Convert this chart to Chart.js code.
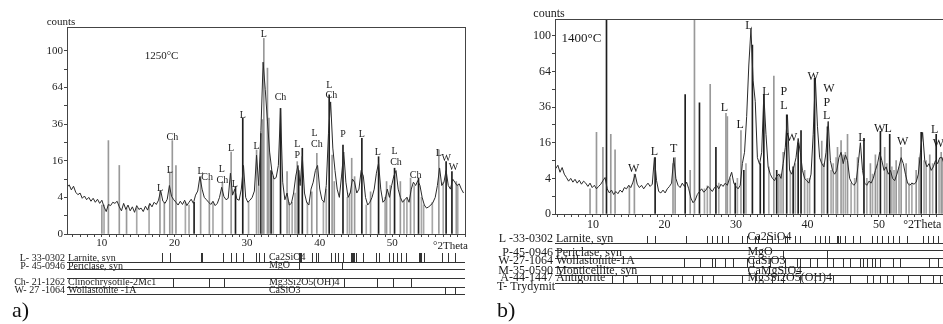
<!DOCTYPE html>
<html>
<head>
<meta charset="utf-8">
<script src="https://cdn.jsdelivr.net/npm/chart.js@4"></script>
<style>
  html, body { margin: 0; padding: 0; background: #fff; overflow: hidden; width: 943px; height: 324px; }
  .panel { position: absolute; top: 0; width: 480px; height: 324px; }
  #panelA { left: 0; }
  #panelB { left: 480px; }
  .tag { position: absolute; top: 297px; font: 22px "Liberation Serif", "Times New Roman", serif; color: #111; }
</style>
</head>
<body>
<div class="panel" id="panelA"><canvas id="chartA"></canvas></div>
<div class="panel" id="panelB"><canvas id="chartB"></canvas></div>
<div class="tag" style="left:12px">a)</div>
<div class="tag" style="left:497px">b)</div>
<script>
// axis labels
const xTickLabels = [10, 20, 30, 40, 50];
const yTickLabels = [0, 4, 16, 36, 64, 100];

// ---- panel a) 1250°C ----
const startA = 5.2, stepA = 0.3;
const profileA = [
  6.5, 7.2, 5.8, 6.8, 5.2, 4.6, 5.0, 3.8, 4.3, 3.5,
  4.0, 3.2, 3.8, 3.0, 3.6, 2.8, 3.4, 2.2, 1.5, 2.6,
  2.4, 3.0, 2.8, 3.2, 2.2, 1.6, 2.8, 1.8, 2.5, 1.6,
  2.2, 1.4, 2.4, 1.8, 2.0, 1.5, 2.3, 1.7, 2.8, 2.2,
  3.0, 2.6, 3.4, 5.6, 3.2, 2.8, 3.6, 7.0, 4.2, 3.5,
  3.0, 2.5, 3.2, 2.6, 3.4, 2.4, 3.0, 3.6, 2.8, 4.5,
  5.5, 9.8, 6.0, 4.0, 3.5, 3.0, 2.6, 3.2, 2.4, 2.8,
  4.0, 6.5, 4.2, 3.5, 3.8, 11.0, 4.5, 6.0, 3.6, 3.4,
  6.0, 14.0, 4.0, 3.0, 3.4, 4.0, 5.5, 18.5, 7.0, 32.0,
  88, 62, 38, 20, 12, 9.0, 9.5, 14, 46, 8.0,
  3.5, 5.0, 2.5, 2.8, 5.0, 10.0, 14.0, 7.0, 18.0, 5.0,
  3.0, 2.5, 6.0, 8.0, 12.0, 14.0, 6.0, 3.5, 3.0, 7.0,
  30, 52, 22, 12, 6.0, 4.0, 10.0, 20.0, 8.0, 4.0,
  5.0, 9.0, 8.0, 5.0, 6.0, 12.0, 10.0, 4.0, 2.5, 3.0,
  4.0, 6.0, 11.0, 15.0, 6.0, 3.0, 3.5, 6.0, 4.0, 7.0,
  10.0, 12.0, 6.0, 4.0, 3.0, 3.5, 4.0, 3.0, 6.0, 8.0,
  7.0, 8.5, 7.0, 4.0, 2.5, 2.0, 2.2, 2.5, 3.0, 4.0,
  7.0, 13.0, 7.0, 8.0, 12.0, 7.0, 6.0, 9.0, 8.0, 7.0,
  7.5, 6.0, 5.0
];
const stickThetaA = [10.0, 10.9, 12.4, 13.4, 18.0, 18.6, 19.35, 19.7, 20.2, 22.7,
  23.6, 24.8, 26.6, 27.8, 28.4, 29.4, 31.3, 31.9, 32.1, 32.3,
  32.8, 33.0, 33.3, 34.6, 35.5, 36.9, 37.1, 37.6, 38.9, 39.6,
  41.3, 41.7, 42.0, 43.2, 44.4, 44.8, 45.8, 47.0, 48.1, 49.2,
  50.3, 51.1, 52.5, 53.6, 56.4, 57.4, 58.2, 58.8];
const stickCountA = [2.5, 26, 14, 2, 5.5, 3, 11.5, 26, 14, 3,
  9.8, 8.7, 8, 20, 6.7, 40, 21, 30, 39, 114,
  82, 40, 12, 47, 11.6, 15.6, 12, 21.9, 5.3, 19.4,
  57.7, 18.6, 8.2, 23.6, 17.1, 9.8, 27.3, 5.3, 17.8, 8.2,
  12.9, 8.2, 9.3, 9.3, 21.1, 15.6, 11.6, 8.2];
const stickDarkA = [0, 0, 0, 0, 0, 0, 0, 0, 0, 1,
  0, 0, 0, 0, 1, 1, 0, 1, 0, 0,
  0, 0, 1, 1, 0, 0, 1, 1, 0, 0,
  1, 0, 0, 1, 0, 0, 1, 0, 1, 0,
  1, 0, 0, 1, 0, 1, 1, 0];
// thin grey drops from the trace down to the baseline
const dropThetaA = [10.3, 14.8, 16.5, 21.5, 22.0, 25.3, 30.2, 31.6, 33.6, 35.8, 36.2, 36.6, 38.3, 40.5, 40.9,
  43.8, 44.1, 46.4, 49.0, 49.7, 51.6, 52.0, 53.0, 54.0, 54.3, 55.5, 57.0, 59.0];
const dropCountA = [2.5, 2, 2.5, 3, 2.5, 3, 3, 7, 10, 3, 3, 5, 3, 3, 6,
  4, 5, 2.5, 4, 7, 3.5, 4, 7, 4, 2.5, 3, 8, 7];
const peakTextA = ['L', 'L', 'Ch', 'L', 'Ch', 'L', 'Ch', 'L', 'L', 'L', 'L', 'L', 'Ch', 'L', 'P',
  'L', 'Ch', 'L', 'Ch', 'P', 'L', 'L', 'L', 'Ch', 'Ch', 'L', 'W', 'W'];
const peakThetaA = [18.0, 19.35, 19.7, 23.6, 24.5, 26.5, 26.6, 27.8, 28.3, 29.4, 31.3, 32.3, 34.6, 36.9, 36.9,
  39.3, 39.6, 41.3, 41.6, 43.2, 45.8, 48.0, 50.3, 50.5, 53.2, 56.4, 57.4, 58.4];
const peakCountA = [6.2, 12.2, 28, 11.6, 9.5, 12.6, 8.7, 21.9, 7.4, 42, 22.7, 119, 56, 24, 18.6,
  30.3, 24, 66, 57, 29.7, 29.3, 19.7, 20.2, 15.4, 10.2, 19.5, 17.1, 13.1];
const larniteA = [18.3, 19.35, 23.65, 23.75, 26.7, 27.8, 28.45, 29.5, 31.2, 31.7, 32.3, 37.1, 37.25, 37.4,
  39.0, 39.5, 39.8, 41.5, 42.05, 42.5, 43.2, 44.3, 44.45, 44.6, 44.75, 45.0, 45.9, 47.8, 48.1, 49.5,
  50.1, 50.6, 51.2, 51.9, 53.6, 53.8, 54.0, 54.3, 56.9, 57.6, 58.6];
const periclaseA = [37.2, 43.1];
const chrysotileA = [19.8, 24.7, 26.8, 43.4, 47.9, 50.1, 52.5];
const wollastoniteA = [57.3, 58.6];

// ---- panel b) 1400°C ----
const startB = 4.8, stepB = 0.3;
const profileB = [
  6.5, 7.5, 5.5, 6.8, 5.0, 4.2, 3.4, 4.0, 3.2, 3.8,
  3.0, 3.6, 2.8, 3.4, 3.0, 2.4, 3.0, 2.2, 2.6, 2.0,
  2.4, 2.8, 3.5, 4.2, 2.0, 1.4, 1.8, 1.2, 1.6, 1.3,
  1.8, 1.5, 2.2, 2.0, 2.6, 2.2, 3.2, 5.0, 2.8, 2.2,
  2.6, 2.0, 2.5, 3.0, 2.4, 2.8, 10.0, 3.5, 1.6, 1.4,
  1.8, 1.4, 2.0, 2.4, 3.0, 10.0, 4.0, 2.6, 2.2, 3.0,
  2.4, 3.2, 2.0, 0.8, 0.4, 0.6, 1.2, 1.6, 2.0, 1.5,
  1.8, 2.4, 2.0, 1.6, 2.2, 2.6, 2.0, 2.8, 2.4, 3.0,
  2.6, 4.0, 5.5, 3.0, 2.4, 2.0, 2.6, 8.0, 12.0, 30.0,
  70, 108, 56, 40, 10, 7.8, 12, 45, 20, 7.0,
  5.0, 4.0, 3.5, 4.5, 5.0, 4.0, 8.0, 14.0, 31.0, 6.0,
  5.0, 7.0, 10.0, 18.0, 12.0, 6.0, 4.0, 3.5, 3.0, 5.0,
  20, 58, 24, 10, 8.0, 7.0, 12, 27, 9.0, 6.0,
  5.0, 6.0, 10.0, 12.0, 8.0, 11.0, 9.0, 4.0, 3.0, 2.6,
  3.2, 8.0, 16.0, 6.0, 3.0, 2.6, 3.4, 3.0, 4.0, 6.0,
  8.0, 12.0, 9.0, 6.0, 7.0, 5.0, 6.0, 4.0, 3.5, 5.0,
  7.0, 10.0, 8.0, 5.0, 3.0, 2.6, 3.0, 2.8, 3.2, 5.0,
  12.0, 21.0, 9.0, 7.0, 8.0, 6.0, 7.0, 9.0, 8.0, 10.0,
  10.0, 8.0, 7.0, 6.0
];
const stickThetaB = [9.6, 10.5, 11.4, 11.9, 12.5, 13.1, 15.1, 15.8, 18.7, 21.2,
  21.5, 22.9, 23.6, 24.2, 24.9, 26.4, 27.2, 28.6, 28.8, 29.9,
  30.7, 31.1, 32.3, 33.4, 33.9, 35.3, 35.7, 36.6, 37.1, 38.0,
  38.7, 39.1, 39.6, 41.0, 42.0, 42.8, 44.2, 44.7, 45.6, 47.0,
  47.9, 48.8, 49.5, 50.2, 50.8, 51.5, 52.4, 53.1, 53.8, 55.2,
  55.9, 57.1, 58.0, 58.7];
const stickCountB = [2, 21, 14, 150, 20, 13, 2.5, 5, 10, 8,
  10, 45, 6, 150, 39, 53, 14, 32, 30, 3,
  22, 6, 90, 8, 45, 60, 6, 12, 31, 7,
  16, 22, 6, 58, 16.8, 24, 14, 17, 20, 10,
  18, 8, 11, 21.6, 14, 20, 9, 14, 8, 6,
  21, 11, 20, 12];
const stickDarkB = [0, 0, 0, 1, 0, 0, 0, 0, 1, 0,
  0, 1, 0, 0, 1, 0, 1, 0, 0, 1,
  0, 1, 1, 1, 1, 0, 1, 0, 1, 1,
  1, 1, 0, 1, 0, 1, 0, 0, 0, 0,
  1, 0, 0, 1, 0, 1, 0, 0, 0, 0,
  1, 0, 1, 0];
const dropThetaB = [25.6, 26.0, 27.6, 29.2, 30.2, 31.4, 34.6, 36.0, 36.3, 37.6, 38.3, 40.0, 40.3, 42.3,
  43.3, 43.6, 44.0, 45.0, 45.3, 46.1, 46.6, 48.3, 49.1, 49.8, 51.1, 51.8, 52.1, 52.8, 54.2, 54.6,
  55.6, 56.3, 56.6, 57.5, 58.4, 58.9];
const dropCountB = [2, 2.5, 3, 4, 4, 8, 7, 5, 5, 6, 8, 4, 4, 8,
  6, 8, 10, 11, 12, 3, 4, 4, 5, 8, 8, 7, 6, 7, 3, 3,
  10, 9, 9, 8, 9, 10];
const peakTextB = ['W', 'L', 'T', 'L', 'L', 'L', 'L', 'P', 'L', 'W', 'W', 'W', 'P', 'L', 'L', 'W', 'L', 'W', 'L', 'W'];
const peakThetaB = [15.7, 18.6, 21.3, 28.4, 30.6, 31.8, 34.2, 36.7, 36.7, 37.8, 40.8, 43.0, 42.7, 42.7, 47.6, 50.1, 51.3, 53.3, 57.8, 58.3];
const peakCountB = [6.3, 12.3, 13.2, 35.5, 24.9, 112, 47, 47, 36.6, 18.4, 59.7, 49.6, 39, 30.2, 18.4, 23, 23, 16.5, 22.5, 15.3];
const larniteB = [17.5, 18.7, 23.0, 26.0, 26.7, 27.4, 28.0, 28.9, 30.8, 31.5, 32.7, 33.1, 34.3, 35.1, 35.9,
  36.9, 37.2, 38.3, 38.95, 41.0, 41.8, 42.4, 43.0, 44.1, 44.3, 44.5, 45.2, 46.4, 47.4, 49.0, 49.7,
  50.4, 51.3, 52.0, 52.8, 53.9, 56.2, 56.9, 57.6, 58.3];
const periclaseB = [36.6, 42.7];
const wollastoniteB = [22.7, 25.0, 26.7, 27.1, 28.5, 29.6, 31.5, 32.4, 34.8, 36.9, 38.5, 38.95, 40.35, 41.3,
  42.7, 43.6, 45.0, 45.9, 47.3, 47.8, 48.3, 49.0, 49.4, 50.1, 51.9, 52.9, 57.0, 58.2];
const antigoriteB = [12.6, 14.2, 16.1, 18.0, 19.6, 21.0, 22.4, 24.0, 25.2, 26.8, 30.8, 32.7, 35.0, 36.6,
  38.95, 41.0, 43.6, 45.9, 48.3, 49.2, 50.1, 51.1, 52.0, 54.1, 55.7, 57.6, 58.5];

Chart.defaults.font.family = '"Liberation Serif", "Times New Roman", serif';
Chart.defaults.color = '#222';

// frame, peak letters, phase reference rows
const xrdExtras = {
  id: 'xrdExtras',
  afterDraw(chart, args, o) {
    const { ctx, chartArea: a, scales: { x, y } } = chart;
    ctx.save();
    ctx.strokeStyle = '#444';
    ctx.lineWidth = 1;
    ctx.strokeRect(Math.round(a.left) + 0.5, Math.round(a.top) + 0.5, a.right - a.left, a.bottom - a.top);

    ctx.fillStyle = '#1a1a1a';
    ctx.textBaseline = 'middle';
    ctx.textAlign = 'center';
    ctx.font = o.peakFont;
    o.peakText.forEach((t, i) => {
      ctx.fillText(t, x.getPixelForValue(o.peakTheta[i]), y.getPixelForValue(Math.sqrt(o.peakCount[i])));
    });

    ctx.font = o.tempFont;
    ctx.textAlign = 'left';
    ctx.fillText(o.temp, x.getPixelForValue(o.tempTheta), y.getPixelForValue(Math.sqrt(o.tempCount)));

    ctx.font = o.axisFont;
    ctx.textAlign = 'center';
    ctx.fillText('counts', a.left - 6, a.top - 5);
    ctx.textAlign = 'left';
    ctx.fillText('°2Theta', x.getPixelForValue(o.thetaLabelAt), a.bottom + o.thetaLabelDy);

    ctx.font = o.rowFont;
    ctx.strokeStyle = '#333';
    o.rows.forEach(r => {
      if (r.name) {
        ctx.textAlign = 'right';
        ctx.fillText(r.code, a.left - 2, r.textY);
        ctx.textAlign = 'left';
        ctx.fillText(r.name, a.left + 1, r.textY);
      } else {
        ctx.textAlign = 'left';
        ctx.fillText(r.code, o.freeTextX, r.textY);
      }
      if (r.formula) ctx.fillText(r.formula, x.getPixelForValue(o.formulaTheta), r.formulaY);
      ctx.beginPath();
      r.lines.forEach(ly => {
        ctx.moveTo(a.left, Math.round(ly) + 0.5);
        ctx.lineTo(a.right, Math.round(ly) + 0.5);
      });
      (r.ticks || []).forEach(t => {
        const px = Math.round(x.getPixelForValue(t)) + 0.5;
        ctx.moveTo(px, r.tickTop);
        ctx.lineTo(px, r.tickBottom);
      });
      ctx.stroke();
    });
    ctx.restore();
  }
};

function buildPanel(id, p) {
  const line = p.profile.map((c, i) => ({ x: +(p.start + i * p.step).toFixed(2), y: Math.sqrt(c) }));
  const sticks = p.stickTheta.map((t, i) => ({ x: t, y: Math.sqrt(p.stickCount[i]) }));
  const drops = p.dropTheta.map((t, i) => ({ x: t, y: Math.sqrt(p.dropCount[i]) }));
  return new Chart(document.getElementById(id), {
    data: {
      datasets: [
        {
          type: 'bar', data: drops, order: 3, grouped: false,
          barThickness: 1, backgroundColor: '#a8a8a8', borderWidth: 0
        },
        {
          type: 'bar', data: sticks, order: 2, grouped: false,
          barThickness: 1,
          backgroundColor: p.stickDark.map(d => d ? '#1e1e1e' : '#999999'),
          borderWidth: 0
        },
        {
          type: 'line', data: line, order: 1,
          borderColor: '#2a2a2a', borderWidth: 1, pointRadius: 0, tension: 0
        }
      ]
    },
    options: {
      responsive: true, maintainAspectRatio: false, animation: false,
      layout: { padding: p.padding },
      plugins: { legend: { display: false }, tooltip: { enabled: false }, xrdExtras: p.extras },
      scales: {
        x: {
          type: 'linear', min: p.xMin, max: p.xMax, offset: false,
          afterBuildTicks: s => {
            const t = [];
            for (let v = Math.ceil(p.xMin); v <= Math.floor(p.xMax); v++) t.push({ value: v });
            s.ticks = t;
          },
          afterFit: s => { s.height = 20; },
          ticks: {
            autoSkip: false, maxRotation: 0, padding: p.xPad, font: { size: p.tickSize },
            callback: v => xTickLabels.includes(v) ? String(v) : ''
          },
          grid: { drawOnChartArea: false, drawTicks: true, tickLength: 3, tickColor: '#444', offset: false },
          border: { color: '#444' }
        },
        y: {
          type: 'linear', min: 0, max: p.yMax,
          afterBuildTicks: s => {
            const t = [];
            for (let v = 0; v <= 10; v++) t.push({ value: v });
            s.ticks = t;
          },
          afterFit: s => { s.width = p.yWidth; },
          ticks: {
            autoSkip: false, padding: 1, font: { size: p.tickSize },
            callback: v => yTickLabels.includes(v * v) ? String(v * v) : ''
          },
          grid: { drawOnChartArea: false, drawTicks: true, tickLength: 3, tickColor: '#444' },
          border: { color: '#444' }
        }
      }
    },
    plugins: [xrdExtras]
  });
}

buildPanel('chartA', {
  start: startA, step: stepA, profile: profileA,
  stickTheta: stickThetaA, stickCount: stickCountA, stickDark: stickDarkA,
  dropTheta: dropThetaA, dropCount: dropCountA,
  xMin: 5.2, xMax: 60, yMax: 11.3, yWidth: 67, tickSize: 11, xPad: 0,
  padding: { left: 0, right: 15, top: 27, bottom: 70 },
  extras: {
    peakText: peakTextA, peakTheta: peakThetaA, peakCount: peakCountA, peakFont: '10px "Liberation Serif", serif',
    temp: '1250°C', tempTheta: 15.9, tempCount: 93.9, tempFont: '11px "Liberation Serif", serif',
    axisFont: '11px "Liberation Serif", serif', thetaLabelAt: 55.6, thetaLabelDy: 12,
    rowFont: '10px "Liberation Serif", serif', formulaTheta: 33.0, freeTextX: 18,
    rows: [
      { code: 'L- 33-0302', name: 'Larnite, syn', formula: 'Ca2SiO4', textY: 258, formulaY: 257, lines: [261.7], ticks: larniteA, tickTop: 253, tickBottom: 262 },
      { code: 'P- 45-0946', name: 'Periclase, syn', formula: 'MgO', textY: 266, formulaY: 265, lines: [269.3], ticks: periclaseA, tickTop: 262, tickBottom: 269.5 },
      { code: 'Ch- 21-1262', name: 'Clinochrysotile-2Mc1', formula: 'Mg3Si2O5(OH)4', textY: 282, formulaY: 282, lines: [278.3, 286.7], ticks: chrysotileA, tickTop: 278.5, tickBottom: 287 },
      { code: 'W- 27 -1064', name: 'Wollastonite -1A', formula: 'CaSiO3', textY: 290, formulaY: 290, lines: [294.3], ticks: wollastoniteA, tickTop: 287, tickBottom: 294.5 }
    ]
  }
});

buildPanel('chartB', {
  start: startB, step: stepB, profile: profileB,
  stickTheta: stickThetaB, stickCount: stickCountB, stickDark: stickDarkB,
  dropTheta: dropThetaB, dropCount: dropCountB,
  xMin: 4.7, xMax: 60, yMax: 10.95, yWidth: 75, tickSize: 12, xPad: 1,
  padding: { left: 0, right: 9.5, top: 19, bottom: 90 },
  extras: {
    peakText: peakTextB, peakTheta: peakThetaB, peakCount: peakCountB, peakFont: '12px "Liberation Serif", serif',
    temp: '1400°C', tempTheta: 5.6, tempCount: 97.5, tempFont: '13px "Liberation Serif", serif',
    axisFont: '12px "Liberation Serif", serif', thetaLabelAt: 53.4, thetaLabelDy: 11,
    rowFont: '12px "Liberation Serif", serif', formulaTheta: 31.6, freeTextX: 17,
    rows: [
      { code: 'L -33-0302', name: 'Larnite, syn', formula: 'Ca2SiO4', textY: 239.3, formulaY: 237.3, lines: [242.7], ticks: larniteB, tickTop: 236, tickBottom: 243 },
      { code: 'P-45-0946', name: 'Periclase, syn', formula: 'MgO', textY: 253.3, formulaY: 251.7, lines: [250, 258.3], ticks: periclaseB, tickTop: 250, tickBottom: 258.5 },
      { code: 'W-27-1064', name: 'Wollastonite-1A', formula: 'CaSiO3', textY: 261, formulaY: 261, lines: [266.7], ticks: wollastoniteB, tickTop: 258.5, tickBottom: 267 },
      { code: 'M-35-0590', name: 'Monticellite, syn', formula: 'CaMgSiO4', textY: 270.7, formulaY: 270.7, lines: [275], ticks: [], tickTop: 267, tickBottom: 275 },
      { code: 'A-44-1447', name: 'Antigorite', formula: 'Mg3Si2O5(OH)4', textY: 278.3, formulaY: 278.3, lines: [282.7], ticks: antigoriteB, tickTop: 275, tickBottom: 283 },
      { code: 'T- Trydymit', name: '', formula: '', textY: 287.3, formulaY: 0, lines: [], ticks: [], tickTop: 0, tickBottom: 0 }
    ]
  }
});
</script>
</body>
</html>
